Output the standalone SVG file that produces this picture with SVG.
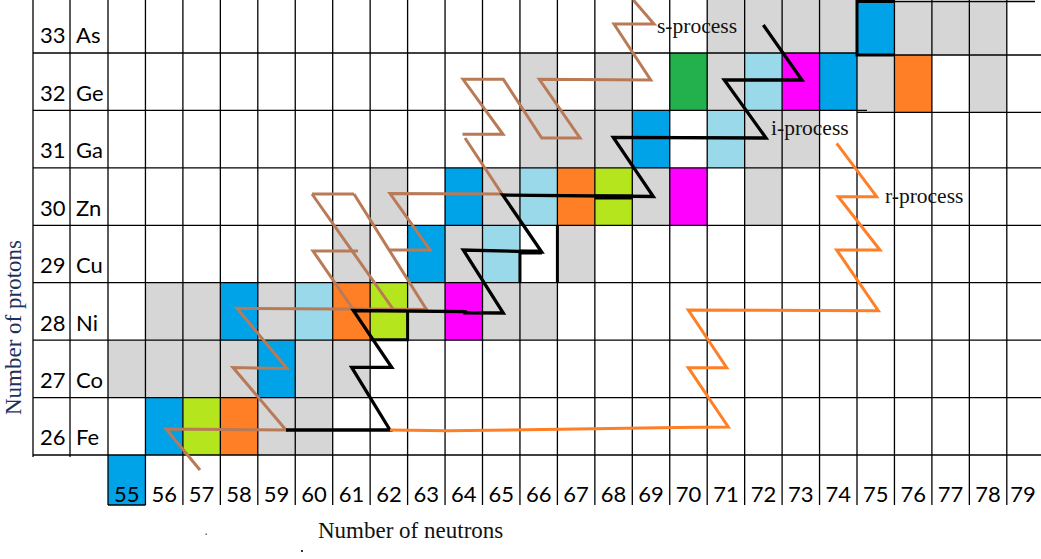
<svg xmlns="http://www.w3.org/2000/svg" width="1041" height="559" viewBox="0 0 1041 559">
<style>
.gr{fill:#d6d6d6}.bl{fill:#00a2e8}.lb{fill:#99d9ea}.or{fill:#ff7f27}.li{fill:#b5e61d}.mg{fill:#ff00ff}.gn{fill:#22b14c}
.grid line{stroke:#000;stroke-width:1.3}
.num{font-family:Lato,"Open Sans",sans-serif;font-size:22px;fill:#000}
.nn{font-family:Lato,"Open Sans",sans-serif;font-size:22px;fill:#000;text-anchor:middle}
.lab{font-family:"Liberation Serif",serif;fill:#111}
.plab{font-family:"Liberation Serif",serif;font-size:21.5px;fill:#111}
.s{fill:none;stroke:#b97a57;stroke-width:3}
.i{fill:none;stroke:#000;stroke-width:3.3}
.r{fill:none;stroke:#ff7f27;stroke-width:3}
.thick{stroke:#000;stroke-width:3;fill:none}
</style>
<rect x="0" y="0" width="1041" height="559" fill="#fff"/>
<g id="cells">
<!-- row 26 -->
<rect class="bl" x="145.45" y="397.6" width="37.45" height="57.4"/>
<rect class="li" x="182.9" y="397.6" width="37.45" height="57.4"/>
<rect class="or" x="220.35" y="397.6" width="37.45" height="57.4"/>
<rect class="gr" x="257.8" y="397.6" width="74.9" height="57.4"/>
<!-- row 27 -->
<rect class="gr" x="108" y="340.2" width="149.8" height="57.4"/>
<rect class="bl" x="257.8" y="340.2" width="37.45" height="57.4"/>
<rect class="gr" x="295.25" y="340.2" width="74.9" height="57.4"/>
<!-- row 28 -->
<rect class="gr" x="145.45" y="282.7" width="74.9" height="57.5"/>
<rect class="bl" x="220.35" y="282.7" width="37.45" height="57.5"/>
<rect class="gr" x="257.8" y="282.7" width="37.45" height="57.5"/>
<rect class="lb" x="295.25" y="282.7" width="37.45" height="57.5"/>
<rect class="or" x="332.7" y="282.7" width="37.45" height="57.5"/>
<rect class="li" x="370.15" y="282.7" width="37.45" height="57.5"/>
<rect class="gr" x="407.6" y="282.7" width="37.45" height="57.5"/>
<rect class="mg" x="445.05" y="282.7" width="37.45" height="57.5"/>
<rect class="gr" x="482.5" y="282.7" width="74.9" height="57.5"/>
<!-- row 29 -->
<rect class="gr" x="332.7" y="225.3" width="37.45" height="57.4"/>
<rect class="bl" x="407.6" y="225.3" width="37.45" height="57.4"/>
<rect class="gr" x="445.05" y="225.3" width="37.45" height="57.4"/>
<rect class="lb" x="482.5" y="225.3" width="37.45" height="57.4"/>
<rect class="gr" x="557.4" y="225.3" width="37.45" height="57.4"/>
<!-- row 30 -->
<rect class="gr" x="370.15" y="167.9" width="37.45" height="57.4"/>
<rect class="bl" x="445.05" y="167.9" width="37.45" height="57.4"/>
<rect class="gr" x="482.5" y="167.9" width="37.45" height="57.4"/>
<rect class="lb" x="519.95" y="167.9" width="37.45" height="57.4"/>
<rect class="or" x="557.4" y="167.9" width="37.45" height="57.4"/>
<rect class="li" x="594.85" y="167.9" width="37.45" height="57.4"/>
<rect class="gr" x="632.3" y="167.9" width="37.45" height="57.4"/>
<rect class="mg" x="669.75" y="167.9" width="37.45" height="57.4"/>
<rect class="gr" x="744.65" y="167.9" width="37.45" height="57.4"/>
<!-- row 31 -->
<rect class="gr" x="519.95" y="110.4" width="112.35" height="57.5"/>
<rect class="bl" x="632.3" y="110.4" width="37.45" height="57.5"/>
<rect class="lb" x="707.2" y="110.4" width="37.45" height="57.5"/>
<rect class="gr" x="744.65" y="110.4" width="74.9" height="57.5"/>
<!-- row 32 -->
<rect class="gr" x="519.95" y="53" width="37.45" height="57.4"/>
<rect class="gr" x="594.85" y="53" width="37.45" height="57.4"/>
<rect class="gn" x="669.75" y="53" width="37.45" height="57.4"/>
<rect class="gr" x="707.2" y="53" width="37.45" height="57.4"/>
<rect class="lb" x="744.65" y="53" width="37.45" height="57.4"/>
<rect class="mg" x="782.1" y="53" width="37.45" height="57.4"/>
<rect class="bl" x="819.55" y="53" width="37.45" height="57.4"/>
<rect class="gr" x="857" y="55" width="37.45" height="57.3"/>
<rect class="or" x="894.45" y="55" width="37.45" height="57.3"/>
<rect class="gr" x="969.35" y="55" width="37.45" height="57.3"/>
<!-- row 33 -->
<rect class="gr" x="707.2" y="0" width="149.8" height="53"/>
<rect class="bl" x="857" y="1.5" width="37.45" height="53.5"/>
<rect class="gr" x="894.45" y="1.5" width="112.35" height="53.5"/>
<!-- bottom -->
<rect class="bl" x="108" y="455" width="37.45" height="50"/>
</g>
<g id="grid" class="grid">
<line x1="33" y1="0" x2="33" y2="457"/>
<line x1="70" y1="0" x2="70" y2="457"/>
<line x1="108" y1="0" x2="108" y2="505"/>
<line x1="145.45" y1="0" x2="145.45" y2="505"/>
<line x1="182.9" y1="0" x2="182.9" y2="505"/>
<line x1="220.35" y1="0" x2="220.35" y2="505"/>
<line x1="257.8" y1="0" x2="257.8" y2="505"/>
<line x1="295.25" y1="0" x2="295.25" y2="505"/>
<line x1="332.7" y1="0" x2="332.7" y2="505"/>
<line x1="370.15" y1="0" x2="370.15" y2="505"/>
<line x1="407.6" y1="0" x2="407.6" y2="505"/>
<line x1="445.05" y1="0" x2="445.05" y2="505"/>
<line x1="482.5" y1="0" x2="482.5" y2="505"/>
<line x1="519.95" y1="0" x2="519.95" y2="505"/>
<line x1="557.4" y1="0" x2="557.4" y2="505"/>
<line x1="594.85" y1="0" x2="594.85" y2="505"/>
<line x1="632.3" y1="0" x2="632.3" y2="505"/>
<line x1="669.75" y1="0" x2="669.75" y2="505"/>
<line x1="707.2" y1="0" x2="707.2" y2="505"/>
<line x1="744.65" y1="0" x2="744.65" y2="505"/>
<line x1="782.1" y1="0" x2="782.1" y2="505"/>
<line x1="819.55" y1="0" x2="819.55" y2="505"/>
<line x1="857" y1="0" x2="857" y2="505"/>
<line x1="894.45" y1="0" x2="894.45" y2="505"/>
<line x1="931.9" y1="0" x2="931.9" y2="505"/>
<line x1="969.35" y1="0" x2="969.35" y2="505"/>
<line x1="1006.8" y1="0" x2="1006.8" y2="505"/>
<line x1="33" y1="53" x2="857" y2="53"/>
<line x1="33" y1="110.4" x2="867" y2="110.4"/>
<line x1="857" y1="1.5" x2="1035" y2="1.5"/>
<line x1="857" y1="55" x2="1041" y2="55"/>
<line x1="857" y1="112.3" x2="1041" y2="112.3"/>
<line x1="33" y1="167.9" x2="1041" y2="167.9"/>
<line x1="33" y1="225.3" x2="1041" y2="225.3"/>
<line x1="33" y1="282.7" x2="1041" y2="282.7"/>
<line x1="33" y1="340.2" x2="1041" y2="340.2"/>
<line x1="33" y1="397.6" x2="1041" y2="397.6"/>
<line x1="33" y1="455" x2="1041" y2="455"/>
<line x1="108" y1="505" x2="145.45" y2="505"/>
</g>
<g id="cell-borders">
<path class="thick" d="M857,0 V55 H894.45 M857,1.5 H894.45"/>
<path class="thick" d="M407.6,311 V339.7 H370.15"/>
<path class="thick" d="M519.95,250 V282.7 M557.4,225.3 V282.7"/>
</g>
<g id="proton-labels" class="num">
<text x="40" y="43.3">33</text><text x="76" y="43.3">As</text>
<text x="40" y="100.7">32</text><text x="76" y="100.7">Ge</text>
<text x="40" y="158.2">31</text><text x="76" y="158.2">Ga</text>
<text x="40" y="215.6">30</text><text x="76" y="215.6">Zn</text>
<text x="40" y="273">29</text><text x="76" y="273">Cu</text>
<text x="40" y="330.5">28</text><text x="76" y="330.5">Ni</text>
<text x="40" y="387.9">27</text><text x="76" y="387.9">Co</text>
<text x="40" y="445.3">26</text><text x="76" y="445.3">Fe</text>
</g>
<g id="neutron-labels" class="nn">
<text x="126.7" y="502.3">55</text>
<text x="164.2" y="502.3">56</text>
<text x="201.6" y="502.3">57</text>
<text x="239.1" y="502.3">58</text>
<text x="276.5" y="502.3">59</text>
<text x="314" y="502.3">60</text>
<text x="351.4" y="502.3">61</text>
<text x="388.9" y="502.3">62</text>
<text x="426.3" y="502.3">63</text>
<text x="463.8" y="502.3">64</text>
<text x="501.2" y="502.3">65</text>
<text x="538.7" y="502.3">66</text>
<text x="576.1" y="502.3">67</text>
<text x="613.6" y="502.3">68</text>
<text x="651" y="502.3">69</text>
<text x="688.5" y="502.3">70</text>
<text x="725.9" y="502.3">71</text>
<text x="763.4" y="502.3">72</text>
<text x="800.8" y="502.3">73</text>
<text x="838.3" y="502.3">74</text>
<text x="875.7" y="502.3">75</text>
<text x="913.2" y="502.3">76</text>
<text x="950.6" y="502.3">77</text>
<text x="988.1" y="502.3">78</text>
<text x="1023" y="502.3">79</text>
</g>
<g id="connectors">
<g id="s-process-path" class="s">
<polyline points="200,470 166,429 286,430 233,367.5 287,368.5 237,308.3 428,309.5"/>
<polyline points="353,309 313,251 358,251"/>
<line x1="312" y1="194" x2="354" y2="194"/>
<line x1="312" y1="194" x2="393" y2="309"/>
<line x1="354" y1="194" x2="428" y2="312"/>
<polyline points="390,250 430,250 390,193.5 502,194 465,138"/>
<polyline points="462.5,134.3 503,134.3 463,79.3 503.3,79.3 541.7,138 580,138 539.3,79.3 650.7,80 614,24 654,24 633.3,0"/>
</g>
<g id="i-process-path" class="i">
<polyline points="286,430 390,430 351.7,367.3 391.7,367.3 353.3,310.5 465,311.7 465,312.8 503.3,313 463.3,250 541.7,252 502.7,195 653.3,196.5 613.3,137.3 766,138 724.3,80 802,80 763.3,25"/>
<line x1="520" y1="252" x2="542" y2="252" stroke-width="5"/>
<line x1="595" y1="197" x2="632" y2="197" stroke-width="5"/>
</g>
<g id="r-process-path" class="r">
<polyline points="390,430 448,430.7 560,429.3 676.7,427.5 728.3,427 688.3,367.7 726.7,367.7 688.3,310 878.3,310.7 836.7,250 880,250 838.3,196.7 876.7,196.7 836.7,143.3"/>
</g>
</g>
<g id="process-labels" class="plab">
<text x="657" y="33.3">s-process</text>
<text x="771" y="135">i-process</text>
<text x="885" y="203">r-process</text>
</g>
<g id="axis-labels" class="lab" font-size="23">
<text x="318" y="537.5">Number of neutrons</text>
<text transform="translate(20.5,415) rotate(-90)" fill="#1c3260">Number of protons</text>
</g>
<rect x="205.5" y="533.5" width="1.5" height="1.5" fill="#666"/>
<rect x="301" y="550" width="2" height="2" fill="#333"/>
</svg>
